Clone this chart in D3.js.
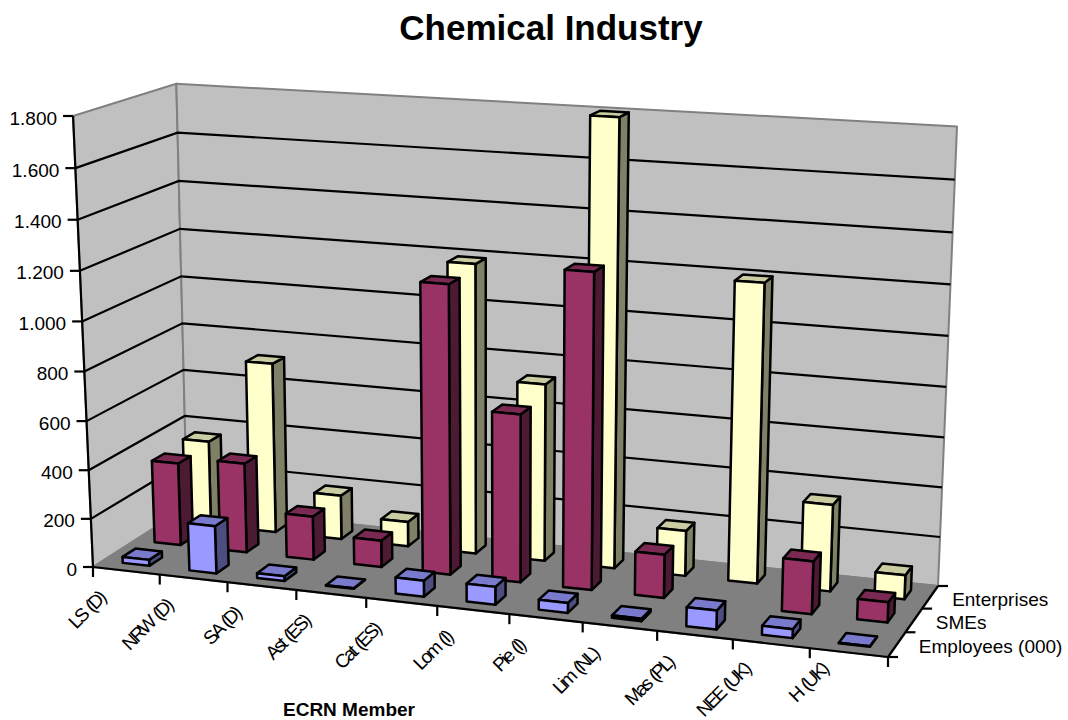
<!DOCTYPE html>
<html>
<head>
<meta charset="utf-8">
<title>Chemical Industry</title>
<script src="https://cdn.jsdelivr.net/npm/d3@7/dist/d3.min.js"></script>
<style>
  html, body { margin: 0; padding: 0; background: #fff; }
  text { font-family: "Liberation Sans", Arial, sans-serif; fill: #000; }
</style>
</head>
<body>
<svg id="chart" width="1068" height="720"></svg>
<script>
// Chart data
const members = ["LS (D)", "NRW (D)", "SA (D)", "Ast (ES)", "Cat (ES)", "Lom (I)", "Pie (I)", "Lim (NL)", "Mas (PL)", "NEE (UK)", "H (UK)"];
const seriesNames = ["Employees (000)", "SMEs", "Enterprises"];
const employees   = [25, 195, 20, 2, 65, 72, 40, 10, 75, 35, 2];
const smes        = [345, 372, 180, 110, 1170, 680, 1260, 175, 0, 210, 80];
const enterprises = [360, 715, 185, 103, 1190, 728, 1800, 185, 1200, 350, 97];
const valueTicks  = [0, 200, 400, 600, 800, 1000, 1200, 1400, 1600, 1800];

// Corners of the plot box on the page
const floorFL = [93, 567], floorFR = [888, 657], floorBR = [938, 586], floorBL = [187, 507];
const wallTopFL = 116;      // page y of the front-left wall corner at the axis maximum
const nadir = [530, 10447]; // vanishing point of the vertical edges
const backLean = [4, 2];    // extra drift of the back-left wall corner at the axis maximum

// Perspective map from the unit box (u across, v into depth, w up) to the page
function makeProjection(p0, p1, p2, p3, vp, topY) {
  const dx1 = p1[0] - p2[0], dx2 = p3[0] - p2[0], sx = p0[0] - p1[0] + p2[0] - p3[0];
  const dy1 = p1[1] - p2[1], dy2 = p3[1] - p2[1], sy = p0[1] - p1[1] + p2[1] - p3[1];
  const den = dx1 * dy2 - dx2 * dy1;
  const g = (sx * dy2 - dx2 * sy) / den, h = (dx1 * sy - sx * dy1) / den;
  const a = p1[0] - p0[0] + g * p1[0], b = p3[0] - p0[0] + h * p3[0], c = p0[0];
  const d = p1[1] - p0[1] + g * p1[1], e = p3[1] - p0[1] + h * p3[1], f = p0[1];
  const k = (topY - p0[1]) / (vp[1] - topY);
  return (u, v, w) => {
    const q = g * u + h * v + 1 + k * w;
    const lean = (1 - u) * v * w;
    return [
      (a * u + b * v + c + k * vp[0] * w) / q + backLean[0] * lean,
      (d * u + e * v + f + k * vp[1] * w) / q + backLean[1] * lean
    ];
  };
}
const project = makeProjection(floorFL, floorFR, floorBR, floorBL, nadir, wallTopFL);

// Scales into the unit box
const GAP = 0.6;
const uScale = d3.scaleBand().domain(members).range([0, 1]).paddingInner(GAP).paddingOuter(GAP / 2);
const vScale = d3.scaleBand().domain(seriesNames).range([0, 1]).paddingInner(GAP).paddingOuter(GAP / 2);
const wScale = d3.scaleLinear().domain([0, 1800]).range([0, 1]);

const svg = d3.select("#chart");
const line = d3.line();
const poly = pts => line(pts) + "Z";
const BLACK = "#000";
const EDGE = "#808080";

// Walls and floor
const walls = svg.append("g");
walls.selectAll("path")
  .data([
    { pts: [[0, 0, 0], [0, 1, 0], [0, 1, 1], [0, 0, 1]], fill: "#c0c0c0" },
    { pts: [[0, 1, 0], [1, 1, 0], [1, 1, 1], [0, 1, 1]], fill: "#c0c0c0" },
    { pts: [[0, 0, 0], [1, 0, 0], [1, 1, 0], [0, 1, 0]], fill: "#808080" }
  ])
  .join("path")
  .attr("d", s => poly(s.pts.map(p => project(...p))))
  .attr("fill", s => s.fill)
  .attr("stroke", EDGE)
  .attr("stroke-width", 2)
  .attr("stroke-linejoin", "round");

// Horizontal gridlines across both walls
const grid = svg.append("g").attr("fill", "none").attr("stroke", BLACK).attr("stroke-width", 2.2);
grid.selectAll("path")
  .data(valueTicks.filter(t => t > 0 && t < 1800))
  .join("path")
  .attr("d", t => {
    const w = wScale(t);
    return line([project(0, 0, w), project(0, 1, w), project(1, 1, w)]);
  });

// Value axis
const thousands = d3.formatLocale({ decimal: ",", thousands: ".", grouping: [3], currency: ["", ""] }).format(",d");
const axes = svg.append("g").attr("stroke", BLACK).attr("stroke-width", 2.2).attr("fill", "none");
axes.append("path").attr("d", line([project(0, 0, 0), project(0, 0, 1)]));
axes.append("path").attr("d", line([project(0, 0, 0), project(1, 0, 0)]));
axes.append("path").attr("d", line([project(1, 0, 0), project(1, 1, 0)]));

const valueAxis = svg.append("g");
valueTicks.forEach(t => {
  const [x, y] = project(0, 0, wScale(t));
  valueAxis.append("line").attr("x1", x - 10).attr("x2", x).attr("y1", y).attr("y2", y)
    .attr("stroke", BLACK).attr("stroke-width", 2.2);
  valueAxis.append("text").attr("x", x - 16).attr("y", y + 8.5)
    .attr("text-anchor", "end").attr("font-size", 19).text(thousands(t));
});

// Ticks along the front and right floor edges
const tickU = d3.range(members.length + 1).map(i => i / members.length);
tickU.forEach(u => {
  const [x, y] = project(u, 0, 0);
  axes.append("line").attr("x1", x).attr("x2", x).attr("y1", y).attr("y2", y + 10);
});
d3.range(seriesNames.length + 1).forEach(i => {
  const [x, y] = project(1, i / seriesNames.length, 0);
  axes.append("line").attr("x1", x).attr("x2", x + 10).attr("y1", y).attr("y2", y);
});

// Bars, painted from the back row forward
const rows = [
  { name: "Enterprises", values: enterprises, front: "#ffffcc", top: "#cccca3", side: "#808066" },
  { name: "SMEs", values: smes, front: "#993366", top: "#7a2952", side: "#4d1a33" },
  { name: "Employees (000)", values: employees, front: "#9999ff", top: "#7a7acc", side: "#4d4d80" }
];
rows.forEach(row => {
  const g = svg.append("g").attr("class", "series");
  const v0 = vScale(row.name), v1 = v0 + vScale.bandwidth();
  const items = members.map((m, i) => ({ m, value: row.values[i] })).filter(d => d.value > 0).reverse();
  items.forEach(d => {
    const u0 = uScale(d.m), u1 = u0 + uScale.bandwidth(), w = wScale(d.value);
    const faces = [
      { fill: row.side,  pts: [[u1, v0, 0], [u1, v1, 0], [u1, v1, w], [u1, v0, w]] },
      { fill: row.top,   pts: [[u0, v0, w], [u1, v0, w], [u1, v1, w], [u0, v1, w]] },
      { fill: row.front, pts: [[u0, v0, 0], [u1, v0, 0], [u1, v0, w], [u0, v0, w]] }
    ];
    g.selectAll(null).data(faces).join("path")
      .attr("d", f => poly(f.pts.map(p => project(...p))))
      .attr("fill", f => f.fill)
      .attr("stroke", BLACK)
      .attr("stroke-width", 2.5)
      .attr("stroke-linejoin", "round");
  });
});

// Category labels, tilted under the front edge; kept inside the page at the bottom
const catLabels = svg.append("g");
members.forEach(m => {
  const [x, y] = project(uScale(m) + uScale.bandwidth() / 2, 0, 0);
  catLabels.append("text")
    .attr("transform", `translate(${x - 20},${Math.min(y + 29, 671)}) rotate(-45)`)
    .attr("text-anchor", "end")
    .attr("font-size", 19)
    .attr("letter-spacing", -2.4)
    .attr("word-spacing", 2)
    .text(m);
});

// Series labels beside the right floor edge
seriesNames.forEach(name => {
  const [x, y] = project(1, vScale(name) + vScale.bandwidth() / 2, 0);
  svg.append("text").attr("x", x + 22).attr("y", y + 9)
    .attr("font-size", 19).text(name);
});

// Titles
svg.append("text").attr("x", 551).attr("y", 40).attr("text-anchor", "middle")
  .attr("font-size", 35).attr("font-weight", "bold").text("Chemical Industry");
svg.append("text").attr("x", 349).attr("y", 716).attr("text-anchor", "middle")
  .attr("font-size", 19).attr("font-weight", "bold").text("ECRN Member");
</script>
</body>
</html>
